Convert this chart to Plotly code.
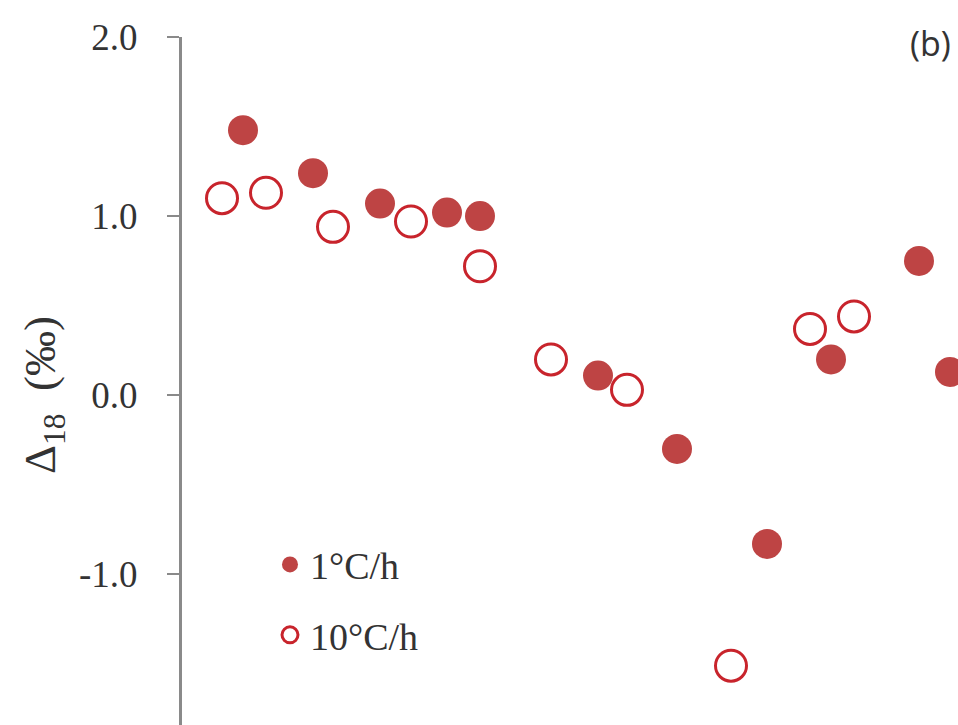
import plotly.graph_objects as go

# Data (x: relative sample position, y: Δ18 in ‰)
slow_x = [61, 131, 198, 265, 298, 416, 495, 585, 649, 737, 768]
slow_y = [1.48, 1.24, 1.07, 1.02, 1.00, 0.11, -0.30, -0.83, 0.20, 0.75, 0.13]
fast_x = [40, 84, 151, 229, 298, 369, 445, 549, 628, 672]
fast_y = [1.10, 1.13, 0.94, 0.97, 0.72, 0.20, 0.03, -1.51, 0.37, 0.44]

y_ticks = [-1.0, 0.0, 1.0, 2.0]
y_ticktext = ["-1.0", "0.0", "1.0", "2.0"]
series_names = ["1°C/h", "10°C/h"]
y_title = "Δ<sub>18</sub>\u00a0\u00a0(‰)"

serif = "Liberation Serif, Times New Roman, serif"

fig = go.Figure()
fig.add_trace(go.Scatter(
    x=slow_x, y=slow_y, mode="markers", name=series_names[0],
    legendgroup="a",
    marker=dict(symbol="circle", size=30, color="#BE4444", line=dict(width=0)),
))
fig.add_trace(go.Scatter(
    x=fast_x, y=fast_y, mode="markers", name=series_names[1],
    legendgroup="b",
    marker=dict(symbol="circle-open", size=31, color="#C8242C", line=dict(width=3)),
))

fig.update_layout(
    width=958, height=725,
    margin=dict(l=182, r=0, t=37, b=0, pad=0),
    paper_bgcolor="white", plot_bgcolor="white",
    showlegend=True,
    legend=dict(
        x=0.1134, y=0.2787, xanchor="left", yanchor="top",
        font=dict(family=serif, size=38, color="#333333"),
        bgcolor="rgba(0,0,0,0)", borderwidth=0,
        traceorder="grouped", tracegroupgap=18,
        itemsizing="trace",
    ),
    xaxis=dict(
        range=[0, 776], visible=False, showgrid=False, zeroline=False,
    ),
    yaxis=dict(
        range=[-1.841, 2.0],
        tickvals=y_ticks, ticktext=y_ticktext,
        showgrid=False, zeroline=False,
        showline=True, linecolor="#8a8a8a", linewidth=3,
        ticks="outside", ticklen=12, tickwidth=2, tickcolor="#8a8a8a",
        tickfont=dict(family=serif, size=37, color="#333333"),
        ticklabelstandoff=22,
        automargin=False,
    ),
    annotations=[
        dict(
            text="(b)", x=0.964, y=0.991, xref="paper", yref="paper",
            xanchor="center", yanchor="middle", showarrow=False,
            font=dict(family="Open Sans, Carlito, sans-serif", size=34, color="#333333"),
        ),
        dict(
            text=y_title, x=-0.179, y=0.4797, xref="paper", yref="paper",
            xanchor="center", yanchor="middle", showarrow=False, textangle=-90,
            font=dict(family=serif, size=45, color="#333333"),
        ),
    ],
)

fig.write_html("out.html")
